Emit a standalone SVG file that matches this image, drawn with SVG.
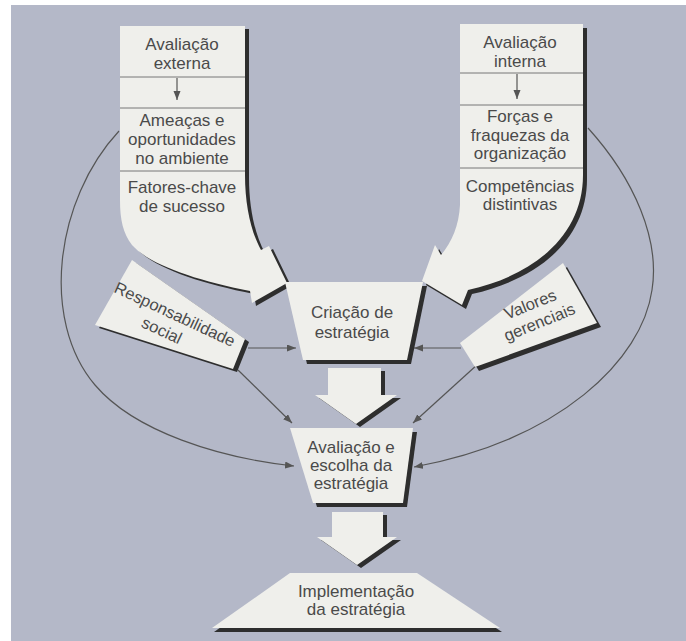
<svg xmlns="http://www.w3.org/2000/svg" width="686" height="641" viewBox="0 0 686 641">
<defs>
<style>
.bg{fill:#b4b8c8}
.box{fill:#efefeb}
.sh{fill:#2e2e2e}
.div{stroke:#777;stroke-width:1;fill:none}
.t{font-family:"Liberation Sans",Arial,sans-serif;font-size:17px;fill:#4a4a4a;text-anchor:middle}
.tr{font-family:"Liberation Sans",Arial,sans-serif;font-size:16.5px;fill:#4a4a4a;text-anchor:middle}
.c{stroke:#555;stroke-width:1.2;fill:none;marker-end:url(#ah)}
</style>
<marker id="ah" markerUnits="userSpaceOnUse" markerWidth="10" markerHeight="8" refX="9" refY="3.5" orient="auto">
<path d="M0,0 L9,3.5 L0,7 Z" fill="#555"/>
</marker>
</defs>
<rect x="0" y="0" width="686" height="641" fill="#ffffff"/>
<rect class="bg" x="11" y="5" width="675" height="636"/>

<g id="connectors">
<path class="c" d="M248,348 H296"/>
<path class="c" d="M461,348 H414"/>
<path class="c" d="M238,370 L292,423"/>
<path class="c" d="M478,364 L413,423"/>
<path class="c" d="M119,131 C55,200 40,320 95,385 C135,432 220,458 294,466"/>
<path class="c" d="M588,128 C635,180 660,240 652,290 C642,360 560,440 414,467"/>
</g>

<g id="externa">
<path class="sh" transform="translate(4,3)" d="M120,26 H245 V175 C245,205 251,232 261,250 L269,246 L287,283 L252,303 L250,291 C195,280 150,265 132,245 C123,233 120,220 120,200 Z"/>
<path class="box" d="M120,26 H245 V175 C245,205 251,232 261,250 L269,246 L287,283 L252,303 L250,291 C195,280 150,265 132,245 C123,233 120,220 120,200 Z"/>
<line class="div" x1="120" y1="77" x2="245" y2="77"/>
<line class="div" x1="120" y1="108" x2="245" y2="108"/>
<line class="div" x1="120" y1="171" x2="245" y2="171"/>
<line x1="177" y1="78" x2="177" y2="100" stroke="#555" stroke-width="1.2" marker-end="url(#ah)"/>
<text class="t" x="182" y="50">Avaliação</text>
<text class="t" x="182" y="69">externa</text>
<text class="t" x="182" y="126">Ameaças e</text>
<text class="t" x="182" y="145">oportunidades</text>
<text class="t" x="182" y="164">no ambiente</text>
<text class="t" x="182" y="193">Fatores-chave</text>
<text class="t" x="182" y="212">de sucesso</text>
</g>

<g id="interna">
<path class="sh" transform="translate(4,4)" d="M460,24 H583 V175 C583,235 535,275 468,290 L462,305 L422,281 L435,245 L441,255 C452,242 459,225 460,205 Z"/>
<path class="box" d="M460,24 H583 V175 C583,235 535,275 468,290 L462,305 L422,281 L435,245 L441,255 C452,242 459,225 460,205 Z"/>
<line class="div" x1="460" y1="73" x2="583" y2="73"/>
<line class="div" x1="460" y1="105" x2="583" y2="105"/>
<line class="div" x1="460" y1="168" x2="583" y2="168"/>
<line x1="517" y1="74" x2="517" y2="99" stroke="#555" stroke-width="1.2" marker-end="url(#ah)"/>
<text class="t" x="520" y="48">Avaliação</text>
<text class="t" x="520" y="67">interna</text>
<text class="t" x="520" y="122">Forças e</text>
<text class="t" x="520" y="141">fraquezas da</text>
<text class="t" x="520" y="159">organização</text>
<text class="t" x="520" y="192">Competências</text>
<text class="t" x="520" y="210">distintivas</text>
</g>

<g id="responsabilidade">
<path class="sh" transform="translate(4,3)" d="M132,260 L245,339 L233,369 L95,325 Z"/>
<path class="box" d="M132,260 L245,339 L233,369 L95,325 Z"/>
<g transform="translate(175,314) rotate(25)">
<text class="tr" x="0" y="6">Responsabilidade</text>
<text class="tr" x="-5" y="26">social</text>
</g>
</g>

<g id="valores">
<path class="sh" transform="translate(4,4)" d="M563,263 L597,323 L475,367 L460,343 Z"/>
<path class="box" d="M563,263 L597,323 L475,367 L460,343 Z"/>
<g transform="translate(530,304) rotate(-22)">
<text class="tr" x="0" y="6">Valores</text>
<text class="tr" x="2" y="26">gerenciais</text>
</g>
</g>

<g id="criacao">
<path class="sh" transform="translate(4,4)" d="M285,282 L423,282 L407,360 L303,360 Z"/>
<path class="box" d="M285,282 L423,282 L407,360 L303,360 Z"/>
<text class="t" x="352" y="318">Criação de</text>
<text class="t" x="352" y="338">estratégia</text>
</g>

<g id="seta1">
<path class="sh" transform="translate(4,3)" d="M328,368 H381 V395 H397 L356,424 L315,395 H328 Z"/>
<path class="box" d="M328,368 H381 V395 H397 L356,424 L315,395 H328 Z"/>
</g>

<g id="avaliacao">
<path class="sh" transform="translate(4,4)" d="M290,428 L413,428 L403,503 L313,503 Z"/>
<path class="box" d="M290,428 L413,428 L403,503 L313,503 Z"/>
<text class="t" x="351" y="453">Avaliação e</text>
<text class="t" x="351" y="471">escolha da</text>
<text class="t" x="351" y="489">estratégia</text>
</g>

<g id="seta2">
<path class="sh" transform="translate(4,3)" d="M332,512 H383 V537 H397 L357,565 L317,537 H332 Z"/>
<path class="box" d="M332,512 H383 V537 H397 L357,565 L317,537 H332 Z"/>
</g>

<g id="implementacao">
<path class="sh" transform="translate(2,4)" d="M290,573 L417,573 L500,628 L212,628 Z"/>
<path class="box" d="M290,573 L417,573 L500,628 L212,628 Z"/>
<text class="t" x="356" y="597">Implementação</text>
<text class="t" x="356" y="615">da estratégia</text>
</g>
</svg>
